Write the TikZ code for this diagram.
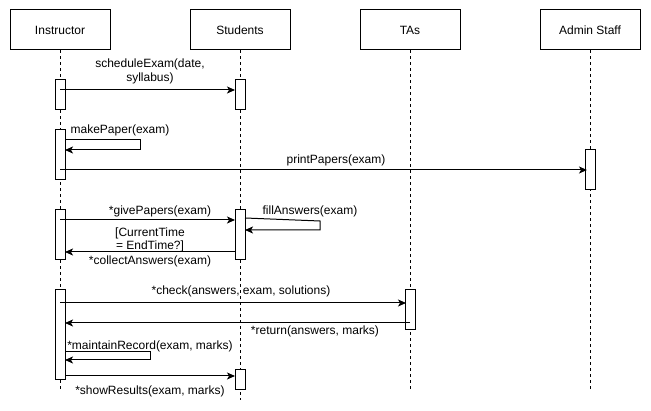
\documentclass[tikz,border=0pt]{standalone}
\usepackage{fontspec}
\setmainfont{Liberation Sans}
\usetikzlibrary{arrows.meta}
\begin{document}
\begin{tikzpicture}[x=1pt,y=-1pt,
  actor/.style={draw, line width=1pt, minimum width=100pt, minimum height=40pt, inner sep=0pt, font=\fontsize{12}{14}\selectfont},
  life/.style={line width=1pt, dash pattern=on 3pt off 3pt},
  bar/.style={draw, fill=white, line width=1pt, minimum width=10pt, inner sep=0pt},
  msg/.style={line width=1pt, -{Stealth[length=8pt,width=7pt,inset=2pt]}},
  lbl/.style={font=\fontsize{12}{13.5}\selectfont, align=center, inner sep=0pt}]
\useasboundingbox (0,0) rectangle (651,411);
\fill[white] (0,0) rectangle (651,411);
% actors
\node[actor] (I) at (60,30) {Instructor};
\node[actor] (S) at (240,30) {Students};
\node[actor] (T) at (410,30) {TAs};
\node[actor] (A) at (590,30) {Admin Staff};
% lifeline ends
\coordinate (Ie) at (60,390);
\coordinate (Se) at (240,400);
\coordinate (Te) at (410,390);
\coordinate (Ae) at (590,390);
\draw[life] (I.south) -- (Ie);
\draw[life] (S.south) -- (Se);
\draw[life] (T.south) -- (Te);
\draw[life] (A.south) -- (Ae);
% activation bars
\node[bar, minimum height=30pt] (i1) at (60,95) {};
\node[bar, minimum height=30pt] (s1) at (240,95) {};
\node[bar, minimum height=50pt] (i2) at (60,155) {};
\node[bar, minimum height=40pt] (a1) at (590,170) {};
\node[bar, minimum height=50pt] (i3) at (60,235) {};
\node[bar, minimum height=50pt] (s2) at (240,235) {};
\node[bar, minimum height=90pt] (i4) at (60,335) {};
\node[bar, minimum height=40pt] (t1) at (410,310) {};
\node[bar, minimum height=20pt] (s3) at (240,380) {};
% message points
\coordinate (m1a) at (60,90);  \coordinate (m1b) at (235,90);
\coordinate (m2a) at (65,140); \coordinate (m2b) at (140,140); \coordinate (m2c) at (140,150); \coordinate (m2d) at (65,150);
\coordinate (m3a) at (60,170); \coordinate (m3b) at (587,170);
\coordinate (m4a) at (60,220); \coordinate (m4b) at (235,220);
\coordinate (m5a) at (245,218); \coordinate (m5b) at (320,221); \coordinate (m5c) at (320,230); \coordinate (m5d) at (245,230);
\coordinate (m6a) at (235,252); \coordinate (m6b) at (65,252);
\coordinate (m7a) at (60,303); \coordinate (m7b) at (406,303);
\coordinate (m8a) at (410,323); \coordinate (m8b) at (65,323);
\coordinate (m9a) at (65,352); \coordinate (m9b) at (150,352); \coordinate (m9c) at (150,360); \coordinate (m9d) at (65,360);
\coordinate (m10a) at (65,376); \coordinate (m10b) at (235,376);
% messages
\draw[msg] (m1a) -- (m1b);
\draw[msg] (m2a) -- (m2b) -- (m2c) -- (m2d);
\draw[msg] (m3a) -- (m3b);
\draw[msg] (m4a) -- (m4b);
\draw[msg] (m5a) -- (m5b) -- (m5c) -- (m5d);
\draw[msg] (m6a) -- (m6b);
\draw[msg] (m7a) -- (m7b);
\draw[msg] (m8a) -- (m8b);
\draw[msg] (m9a) -- (m9b) -- (m9c) -- (m9d);
\draw[msg] (m10a) -- (m10b);
% labels
\node[lbl] (l1) at (150,71.5) {scheduleExam(date,\\syllabus)};
\node[lbl] (l2) at (120,130) {makePaper(exam)};
\node[lbl] (l3) at (336,160) {printPapers(exam)};
\node[lbl] (l4) at (160,211) {*givePapers(exam)};
\node[lbl] (l5) at (310,211) {fillAnswers(exam)};
\node[lbl] (l6) at (150,240) {[CurrentTime\\= EndTime?]};
\node[lbl] (l7) at (150,261) {*collectAnswers(exam)};
\node[lbl] (l8) at (241,291) {*check(answers, exam, solutions)};
\node[lbl] (l9) at (315,331) {*return(answers, marks)};
\node[lbl] (l10) at (150,346) {*maintainRecord(exam, marks)};
\node[lbl] (l11) at (150,391) {*showResults(exam, marks)};
\end{tikzpicture}
\end{document}
